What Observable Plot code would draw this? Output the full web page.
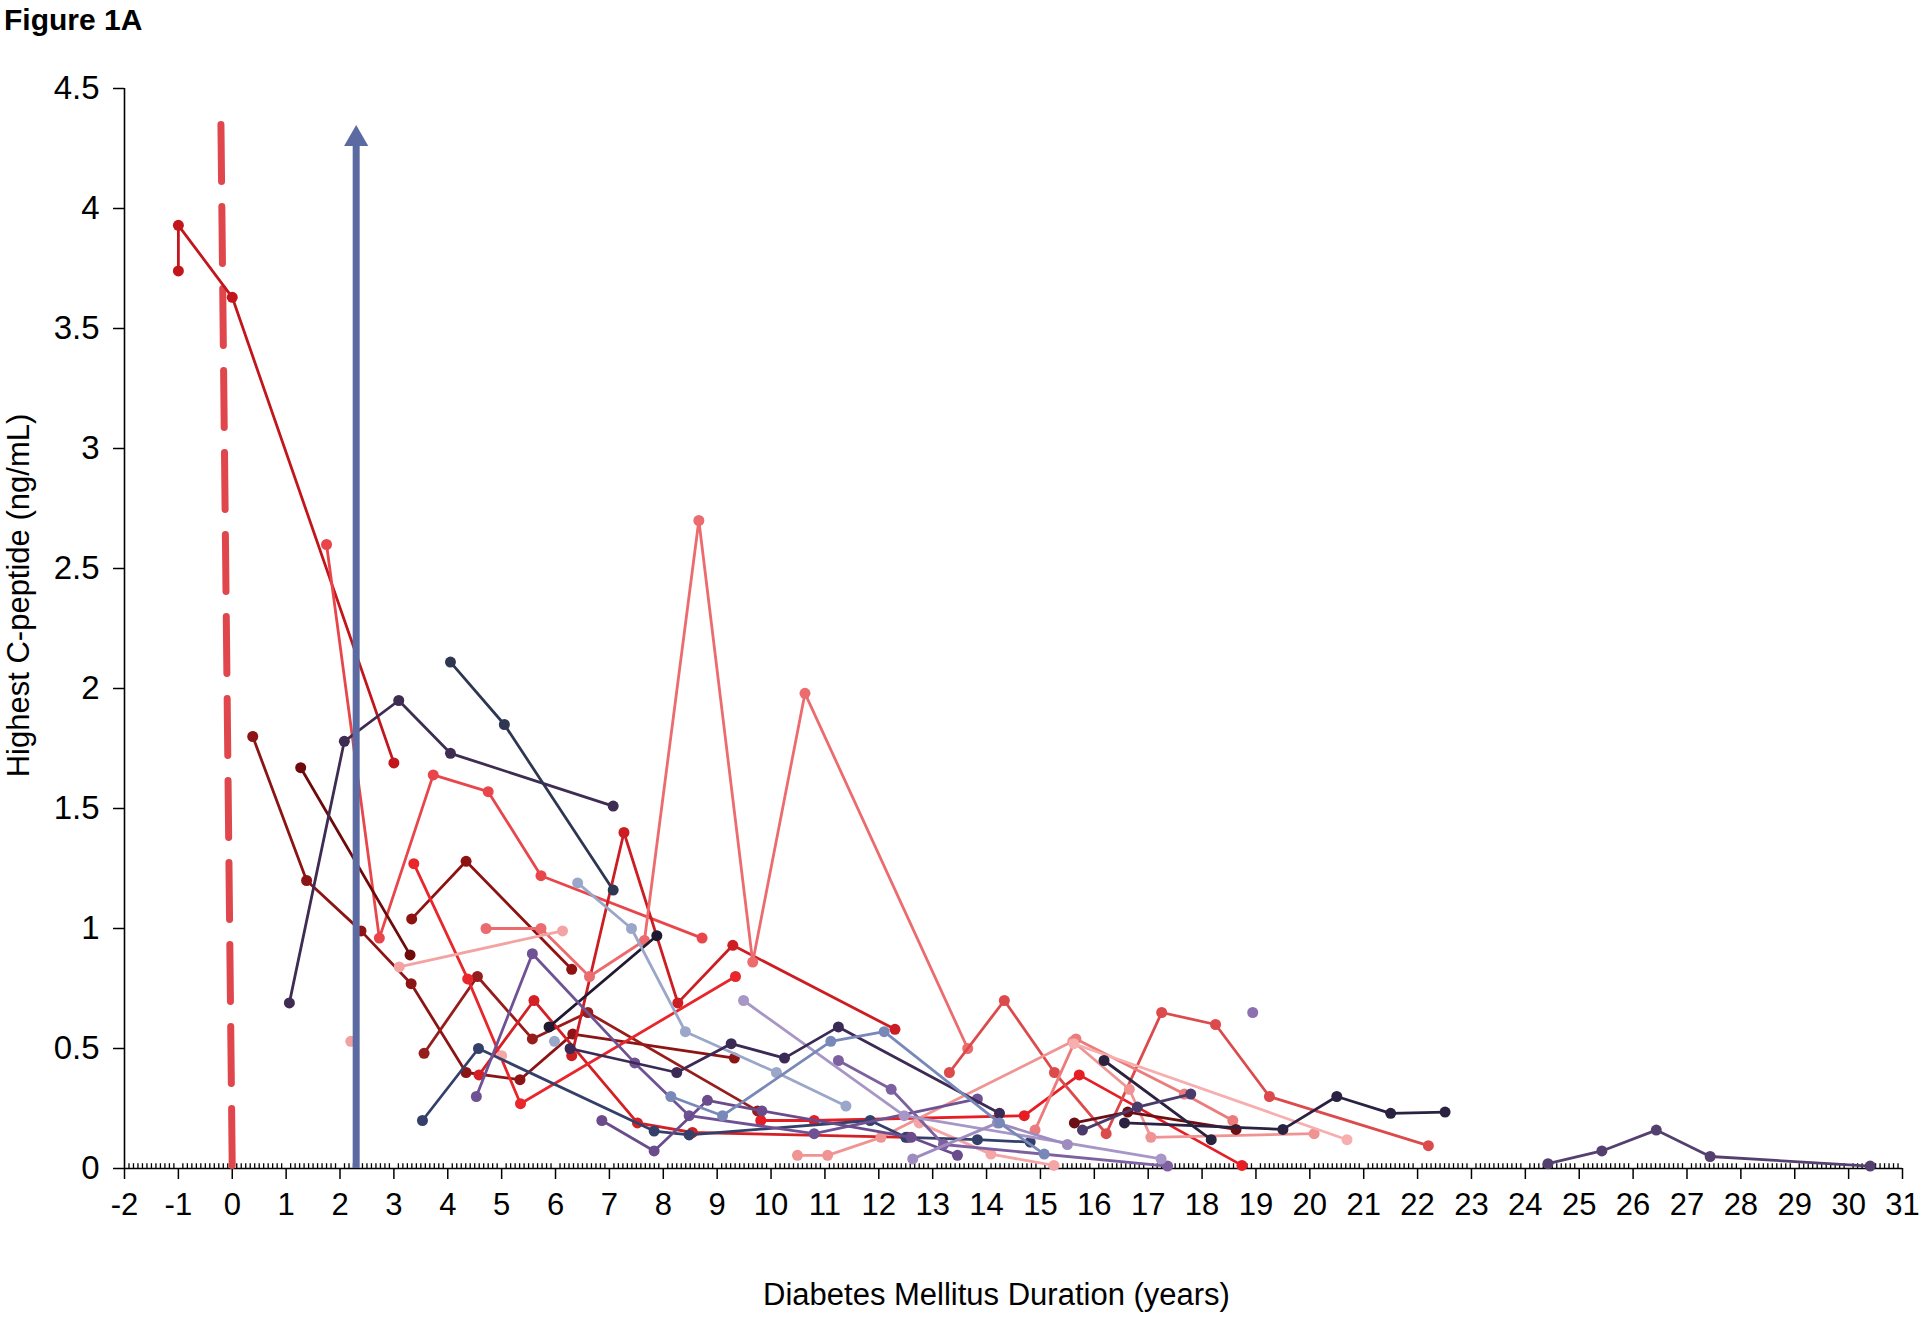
<!DOCTYPE html>
<html>
<head>
<meta charset="utf-8">
<script src="https://cdn.jsdelivr.net/npm/d3@7"></script>
<script src="https://cdn.jsdelivr.net/npm/@observablehq/plot@0.6"></script>
<style>
  body { margin: 0; background: #fff; font-family: "Liberation Sans", Arial, sans-serif; }
  #wrap { position: relative; width: 1920px; height: 1317px; overflow: hidden; }
  #chart { position: absolute; left: 0; top: 0; }
  #title { position: absolute; left: 4px; top: 3px; font-weight: bold; font-size: 30px; line-height: 1.15; color: #000; }
</style>
</head>
<body>
<div id="wrap"><div id="chart"></div><div id="title">Figure 1A</div></div>
<script>
// ---------- tick labels ----------
const xTicks = d3.range(-2, 32);
const yTicks = [0, 0.5, 1, 1.5, 2, 2.5, 3, 3.5, 4, 4.5];
const minorPerYear = 12;

// ---------- reference lines ----------
const onsetLine = [[-0.21, 4.35], [0, 0]];          // dashed red line (diagnosis)
const arrowX = [2.3];                                 // blue arrow position (years)
const arrowTop = [4.29];

// ---------- patient series: [duration (years), highest C-peptide (ng/mL)] ----------
const p01 = [[-1, 3.74], [-1, 3.93], [0, 3.63], [3.0, 1.69]];
const p02 = [[1.75, 2.60], [2.73, 0.96], [3.73, 1.64], [4.75, 1.57], [5.73, 1.22], [8.72, 0.96]];
const p03 = [[0.38, 1.80], [1.38, 1.20], [2.39, 0.99], [3.32, 0.77], [4.34, 0.40], [5.34, 0.37], [6.32, 0.56], [9.32, 0.46]];
const p04 = [[1.27, 1.67], [3.30, 0.89]];
const p05 = [[3.33, 1.04], [4.34, 1.28], [6.30, 0.83]];
const p06 = [[3.56, 0.48], [4.55, 0.80], [5.57, 0.54], [6.6, 0.65], [9.75, 0.24]];
const p07 = [[4.58, 0.39], [5.6, 0.70], [7.52, 0.19], [8.54, 0.15], [12.54, 0.13]];
const p08 = [[3.37, 1.27], [4.37, 0.79], [5.35, 0.27], [9.34, 0.80]];
const p09 = [[6.3, 0.47], [7.27, 1.40], [8.27, 0.69], [9.29, 0.93], [12.3, 0.58]];
const p10 = [[9.81, 0.20], [10.8, 0.20], [14.7, 0.22], [15.72, 0.39], [18.74, 0.013]];
const p11 = [[4.71, 1.0], [5.73, 1.0], [6.63, 0.80], [7.65, 0.95], [8.66, 2.70], [9.66, 0.86], [10.63, 1.98], [13.65, 0.50]];
const p12 = [[13.31, 0.40], [14.33, 0.70], [15.26, 0.40], [16.22, 0.145], [17.25, 0.65], [18.25, 0.60], [19.25, 0.30], [22.2, 0.095]];
const p13 = [[3.1, 0.84], [6.13, 0.99]];
const p14 = [[2.2, 0.53]];
const p15 = [[5.0, 0.47]];
const p16 = [[10.49, 0.055], [11.05, 0.055], [12.04, 0.13], [15.6, 0.53], [16.65, 0.33], [17.05, 0.13], [20.08, 0.145]];
const p17 = [[12.75, 0.19], [14.08, 0.06], [15.25, 0.013]];
const p18 = [[14.9, 0.16], [15.66, 0.54], [17.67, 0.31], [18.57, 0.20]];
const p19 = [[15.62, 0.52], [20.69, 0.12]];
const p20 = [[15.63, 0.19], [16.62, 0.235], [18.63, 0.163]];
const p21 = [[1.06, 0.69], [2.08, 1.78], [3.09, 1.95], [4.05, 1.73], [7.07, 1.51]];
const p22 = [[4.05, 2.11], [5.05, 1.85], [7.07, 1.16]];
const p23 = [[3.53, 0.20], [4.57, 0.50], [7.83, 0.156], [8.48, 0.14], [11.84, 0.20], [12.5, 0.13], [13.83, 0.12], [14.81, 0.11]];
const p24 = [[5.88, 0.59], [7.88, 0.97]];
const p25 = [[6.41, 1.19], [7.41, 1.0], [8.41, 0.57], [10.1, 0.40], [11.39, 0.26]];
const p26 = [[5.98, 0.53]];
const p27 = [[4.53, 0.30], [5.57, 0.895], [7.47, 0.44], [8.48, 0.22], [10.8, 0.145], [13.83, 0.29]];
const p28 = [[6.86, 0.20], [7.83, 0.073], [8.82, 0.284], [9.83, 0.24], [12.6, 0.13], [13.46, 0.055]];
const p29 = [[11.25, 0.45], [12.23, 0.33], [13.2, 0.10], [17.36, 0.01]];
const p30 = [[9.49, 0.70], [12.47, 0.22], [17.24, 0.04]];
const p31 = [[12.63, 0.04], [14.2, 0.19], [15.5, 0.10]];
const p32 = [[6.27, 0.50], [8.25, 0.40], [9.26, 0.52], [10.25, 0.46], [11.25, 0.59], [14.24, 0.23]];
const p33 = [[8.14, 0.30], [9.1, 0.22], [11.11, 0.53], [12.1, 0.57], [14.24, 0.19], [15.07, 0.06]];
const p34 = [[16.18, 0.45], [18.17, 0.12]];
const p35 = [[16.56, 0.19], [19.5, 0.163], [20.5, 0.30], [21.5, 0.23], [22.51, 0.235]];
const p36 = [[15.78, 0.16], [16.8, 0.256], [17.79, 0.31]];
const p37 = [[18.94, 0.65]];
const p38 = [[24.42, 0.02], [25.42, 0.073], [26.43, 0.16], [27.43, 0.05], [30.4, 0.01]];

const patients = [p01,p02,p03,p04,p05,p06,p07,p08,p09,p10,p11,p12,p13,p14,p15,p16,p17,p18,p19,p20,
                  p21,p22,p23,p24,p25,p26,p27,p28,p29,p30,p31,p32,p33,p34,p35,p36,p37,p38];

// ---------- styles (kept apart from the values) ----------
const palette = [
  "#C3161C","#E8464A","#8C1414","#6E0A0A","#8E1212","#971C1C","#D41F25","#E8262C","#CC1D22","#E61E24",
  "#EC6B6E","#DC4A4C","#F4A3A3","#F2A0A0","#F4A8A8","#F09393","#F5A5A5","#EC7C7C","#F6AEAE","#6B0F14",
  "#3E2C52","#2F3652","#34406A","#1F1A30","#9AA7C9","#9AA7C9","#6F5294","#6A4C8C","#7D609F","#A796C6",
  "#9E8CC0","#3B2A55","#7888B8","#2B2240","#2A2240","#4B3B6B","#8E70B0","#54406E"
];
const lineWidth = 2.8;
const dotRadius = 5.5;

const minorTicks = d3.range(-2 * minorPerYear, 31 * minorPerYear + 1)
  .map(i => i / minorPerYear)
  .filter(v => Math.abs(v - Math.round(v)) > 1e-9);

const seriesMarks = [];
patients.forEach((pts, i) => {
  if (pts.length > 1) {
    seriesMarks.push(Plot.line(pts, {x: d => d[0], y: d => d[1], stroke: palette[i], strokeWidth: lineWidth, strokeLinejoin: "round"}));
  }
  seriesMarks.push(Plot.dot(pts, {x: d => d[0], y: d => d[1], r: dotRadius, fill: palette[i], stroke: "none"}));
});

const chart = Plot.plot({
  width: 1920,
  height: 1317,
  marginLeft: 124,
  marginRight: 18,
  marginTop: 88,
  marginBottom: 149,
  style: {fontFamily: '"Liberation Sans", Arial, sans-serif', fontSize: "31px", color: "#000", background: "#fff", overflow: "visible"},
  x: {domain: [-2, 31]},
  y: {domain: [0, 4.5]},
  marks: [
    Plot.axisY({ticks: yTicks, tickSize: 11, tickPadding: 14, tickFormat: d => String(d), label: null, fontSize: 33, strokeWidth: 1.5}),
    Plot.axisX({ticks: xTicks, tickSize: 11, tickPadding: 13, tickFormat: d => String(d), label: null, fontSize: 31, strokeWidth: 1.5}),
    Plot.ruleX(minorTicks, {x: d => d, y1: 0, y2: 0.02, stroke: "#000", strokeWidth: 1.3}),
    Plot.ruleY([0], {stroke: "#000", strokeWidth: 1.6}),
    Plot.ruleX([-2], {y1: 0, y2: 4.5, stroke: "#000", strokeWidth: 1.6}),
    Plot.line(onsetLine, {x: d => d[0], y: d => d[1], stroke: "#E0474C", strokeWidth: 7, strokeDasharray: "57 25"}),
    ...seriesMarks,
    Plot.ruleX(arrowX, {x: d => d, y1: 0, y2: arrowTop[0], stroke: "#5B6BA2", strokeWidth: 7}),
    Plot.dot(arrowX, {x: d => d, y: () => arrowTop[0], symbol: "triangle", r: 9, fill: "#5B6BA2", stroke: "none"}),
    Plot.text(["Highest C-peptide (ng/mL)"], {frameAnchor: "left", dx: -105, dy: -33, rotate: -90, textAnchor: "middle", fontSize: 31, fill: "#000"}),
    Plot.text(["Diabetes Mellitus Duration (years)"], {frameAnchor: "bottom", dx: -17, dy: 136, textAnchor: "middle", fontSize: 31, fill: "#000"})
  ]
});
document.getElementById("chart").appendChild(chart);
</script>
</body>
</html>
